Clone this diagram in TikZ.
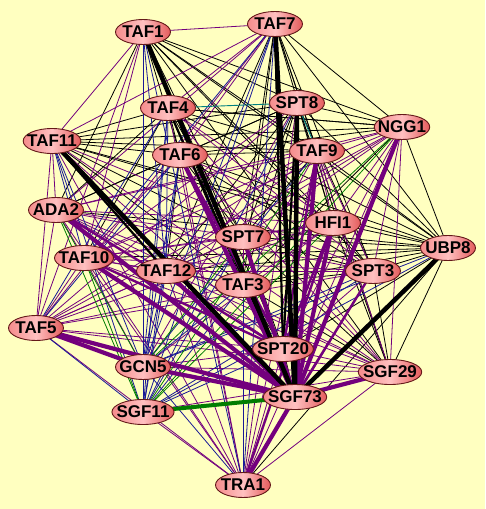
\documentclass[tikz,border=0pt]{standalone}
\usepackage{fontspec}
\setmainfont{Liberation Sans}
\usetikzlibrary{shapes.geometric}
\pgfdeclarelayer{bgl}
\pgfdeclarelayer{edgel}
\pgfsetlayers{bgl,edgel,main}
\definecolor{bgy}{RGB}{255,255,192}
\definecolor{cpur}{RGB}{115,0,125}
\definecolor{cblu}{RGB}{25,25,150}
\definecolor{cgrn}{RGB}{0,125,0}
\definecolor{ctea}{RGB}{0,128,128}
\definecolor{nbd}{RGB}{100,25,25}
\definecolor{nlc}{RGB}{245,140,140}
\definecolor{nmc}{RGB}{255,192,192}
\definecolor{nrc}{RGB}{228,92,92}
\tikzset{
 prot/.style={ellipse, draw=nbd, line width=0.9pt, left color=nlc, right color=nrc, middle color=nmc,
   minimum width=55pt, minimum height=25pt, inner xsep=-4.5pt, inner ysep=0pt,
   font=\fontsize{17}{17}\selectfont\bfseries},
 tk/.style={black, line width=0.8pt},
 tp/.style={cpur, line width=0.8pt},
 tb/.style={cblu, line width=0.8pt},
 tg/.style={cgrn, line width=0.8pt},
 tt/.style={ctea, line width=0.9pt},
 mk/.style={black, line width=2.2pt},
 mp/.style={cpur, line width=2.4pt},
 xk/.style={black, line width=4.5pt},
 xp/.style={cpur, line width=4.2pt},
 xg/.style={cgrn, line width=4pt},
}
\begin{document}
\begin{tikzpicture}[x=1pt,y=-1pt]
\useasboundingbox (0,0) rectangle (485,509);
\begin{pgfonlayer}{bgl}
\fill[bgy] (0,0) rectangle (485,509);
\end{pgfonlayer}
\node[prot] (TAF1) at (143,32) {TAF1};
\node[prot] (TAF7) at (275,24) {TAF7};
\node[prot] (TAF4) at (168,108) {TAF4};
\node[prot] (SPT8) at (297,103) {SPT8};
\node[prot] (NGG1) at (402,127) {NGG1};
\node[prot] (TAF11) at (52,141) {TAF11};
\node[prot] (TAF6) at (180,155) {TAF6};
\node[prot] (TAF9) at (317,151) {TAF9};
\node[prot] (HFI1) at (333,223) {HFI1};
\node[prot] (ADA2) at (56,210) {ADA2};
\node[prot] (SPT7) at (243,237) {SPT7};
\node[prot] (UBP8) at (448,248) {UBP8};
\node[prot] (TAF10) at (84,258) {TAF10};
\node[prot] (TAF12) at (166,271) {TAF12};
\node[prot] (TAF3) at (243,285) {TAF3};
\node[prot] (SPT3) at (373,271) {SPT3};
\node[prot] (TAF5) at (36,328) {TAF5};
\node[prot] (SPT20) at (283,349) {SPT20};
\node[prot] (GCN5) at (143,367) {GCN5};
\node[prot] (SGF29) at (390,372) {SGF29};
\node[prot] (SGF73) at (295,397) {SGF73};
\node[prot] (SGF11) at (143,412) {SGF11};
\node[prot] (TRA1) at (243,485) {TRA1};
\begin{pgfonlayer}{edgel}
% thin black
\foreach \a/\b in {TAF1/SPT8,TAF1/NGG1,TAF1/TAF6,TAF1/TAF9,TAF1/HFI1,TAF1/ADA2,TAF1/SPT7,TAF1/UBP8,TAF1/TAF3,TAF1/SPT3,TAF1/SPT20,TAF1/SGF29,
 TAF7/NGG1,TAF7/TAF9,TAF7/HFI1,TAF7/SPT7,TAF7/UBP8,TAF7/TAF3,TAF7/SPT3,TAF7/SGF29,TAF7/TAF12,
 TAF4/NGG1,TAF4/TAF11,TAF4/TAF6,TAF4/TAF9,TAF4/ADA2,TAF4/SPT7,TAF4/UBP8,TAF4/TAF10,TAF4/TAF3,
 SPT8/NGG1,SPT8/TAF11,SPT8/TAF6,SPT8/HFI1,SPT8/SPT7,SPT8/UBP8,SPT8/TAF12,SPT8/TAF3,SPT8/SPT3,SPT8/SGF29,SPT8/ADA2,
 NGG1/TAF11,NGG1/TAF6,NGG1/UBP8,NGG1/TAF3,NGG1/TAF4,
 TAF11/TAF6,TAF11/TAF9,TAF11/HFI1,TAF11/SPT7,TAF11/UBP8,TAF11/TAF3,
 TAF6/TAF9,TAF6/ADA2,TAF6/SPT7,TAF6/UBP8,TAF6/TAF12,TAF6/TAF3,TAF6/SPT3,
 TAF9/SPT7,TAF9/UBP8,HFI1/UBP8,HFI1/SPT3,HFI1/SGF29,ADA2/UBP8,
 SPT7/UBP8,SPT7/TAF12,SPT7/TAF3,SPT7/SPT3,SPT7/SPT20,SPT7/SGF29,
 UBP8/TAF10,UBP8/TAF12,UBP8/TAF3,UBP8/SPT3,UBP8/SPT20,UBP8/SGF29,UBP8/TRA1,
 TAF12/TAF3,TAF3/SPT3,TAF3/SPT20,TAF3/SGF29,SPT3/SGF29,SPT20/SGF73}
 \draw[tk] (\a.center) -- (\b.center);
% thin purple
\foreach \a/\b in {TAF1/TAF7,TAF1/TAF11,TAF1/TAF10,TAF1/TAF5,TAF1/GCN5,
 TAF7/TAF4,TAF7/TAF11,TAF7/TAF6,TAF7/ADA2,TAF7/TAF5,
 TAF4/HFI1,TAF4/SPT3,TAF4/SGF29,TAF4/TRA1,
 SPT8/TAF10,SPT8/TAF5,SPT8/GCN5,SPT8/TRA1,
 NGG1/TAF9,NGG1/HFI1,NGG1/ADA2,NGG1/SPT7,NGG1/TAF10,NGG1/TAF12,NGG1/SPT3,NGG1/TAF5,NGG1/SPT20,NGG1/SGF29,NGG1/TRA1,
 TAF11/ADA2,TAF11/SPT3,TAF11/TAF5,TAF11/SPT20,TAF11/SGF29,TAF11/TRA1,
 TAF6/HFI1,TAF6/TAF10,TAF6/SGF29,TAF6/TRA1,
 TAF9/HFI1,TAF9/ADA2,TAF9/TAF10,TAF9/TAF12,TAF9/TAF3,TAF9/SPT3,TAF9/TAF5,TAF9/SGF29,TAF9/TRA1,
 HFI1/ADA2,HFI1/SPT7,HFI1/TAF10,HFI1/TAF12,HFI1/TAF3,HFI1/TAF5,HFI1/GCN5,
 ADA2/SPT7,ADA2/TAF10,ADA2/TAF12,ADA2/TAF3,ADA2/SPT3,ADA2/TAF5,ADA2/SGF29,ADA2/TRA1,
 SPT7/TAF10,SPT7/TAF5,SPT7/TRA1,
 TAF10/TAF12,TAF10/TAF3,TAF10/SPT3,TAF10/TAF5,TAF10/GCN5,TAF10/SGF29,TAF10/TRA1,
 TAF12/SPT3,TAF12/TAF5,TAF12/SPT20,TAF12/SGF29,TAF12/TRA1,
 TAF3/TAF5,SPT3/TAF5,SPT3/SPT20,SPT3/TRA1,
 TAF5/SPT20,TAF5/SGF29,TAF5/TRA1,
 SPT20/GCN5,SPT20/SGF29,SPT20/TRA1,GCN5/SGF29,SGF29/SGF11,SGF29/TRA1,SGF11/TRA1}
 \draw[tp] (\a.center) -- (\b.center);
% thin blue
\foreach \a/\b in {TAF1/TAF12,TAF1/SGF11,TAF1/TRA1,
 TAF7/TAF10,TAF7/GCN5,TAF7/SGF11,TAF7/TRA1,
 TAF4/TAF12,TAF4/TAF5,TAF4/GCN5,TAF4/SGF11,SPT8/SGF11,
 TAF11/TAF10,TAF11/GCN5,TAF11/SGF11,
 TAF6/TAF5,TAF6/GCN5,TAF6/SGF11,TAF9/GCN5,SPT7/SGF11,
 UBP8/GCN5,UBP8/SGF11,TAF12/GCN5,TAF12/SGF11,
 TAF3/GCN5,TAF3/SGF11,TAF3/TRA1,SPT3/GCN5,SPT3/SGF11,
 TAF5/SGF11,SPT20/SGF11,GCN5/SGF11,GCN5/TRA1}
 \draw[tb] (\a.center) -- (\b.center);
% thin green
\foreach \a/\b in {NGG1/GCN5,NGG1/SGF11,TAF9/SGF11,HFI1/SGF11,ADA2/GCN5,ADA2/SGF11,SPT7/GCN5,TAF10/SGF11}
 \draw[tg] (\a.center) -- (\b.center);
\foreach \a/\b in {TAF4/SPT8,SPT8/TAF9}
 \draw[tt] (\a.center) -- (\b.center);
% medium
\foreach \a/\b in {TAF7/SPT20,SPT8/SPT20,TAF4/SGF73,TAF11/TAF12}
 \draw[mk] (\a.center) -- (\b.center);
\foreach \a/\b in {TAF6/SPT20,TAF9/SPT20,HFI1/SPT20,ADA2/SPT20,TAF10/SPT20,TAF3/SGF73,SPT3/SGF73,HFI1/TRA1}
 \draw[mp] (\a.center) -- (\b.center);
% thick
\foreach \a/\b in {NGG1/SGF73,TAF9/SGF73,HFI1/SGF73,ADA2/SGF73,SPT7/SGF73,TAF10/SGF73,TAF12/SGF73,
 TAF5/SGF73,TAF5/GCN5,GCN5/SGF73,SGF29/SGF73,TRA1/SGF73,TAF6/SGF73}
 \draw[xp] (\a.center) -- (\b.center);
\foreach \a/\b in {TAF1/SGF73,TAF7/SGF73,SPT8/SGF73,TAF11/SGF73,UBP8/SGF73}
 \draw[xk] (\a.center) -- (\b.center);
\draw[xg] (SGF11.center) -- (SGF73.center);
\end{pgfonlayer}
\end{tikzpicture}
\end{document}
